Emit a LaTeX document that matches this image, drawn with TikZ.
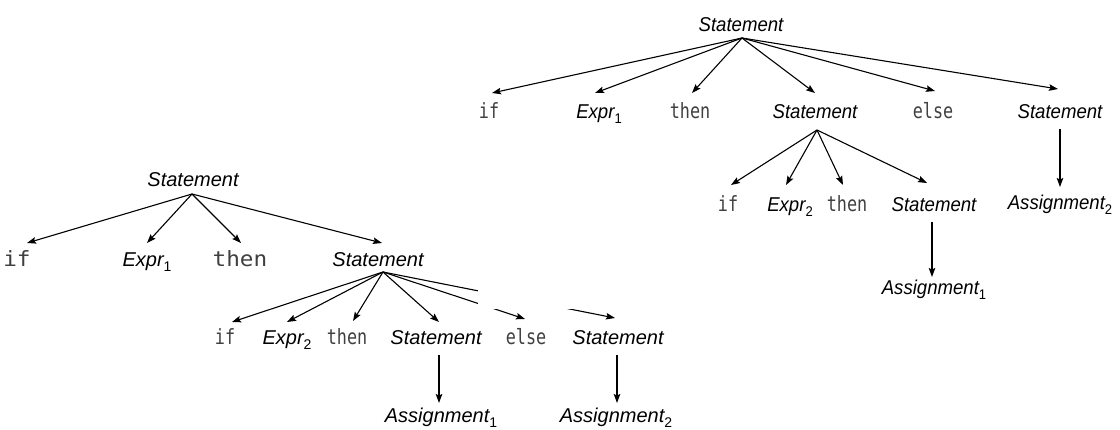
\documentclass[tikz,border=0pt]{standalone}
\usepackage{fontspec}
\usetikzlibrary{arrows.meta,calc}
\newfontfamily\labsans{Liberation Sans}
\newfontfamily\labnarrow[FakeStretch=0.93]{Liberation Sans}
\newfontfamily\kwmono[FakeStretch=0.8]{DejaVu Sans Mono}
\newfontfamily\kwwide[FakeStretch=1.08]{DejaVu Sans Mono}
\newcommand{\sub}[1]{\raisebox{-4.5pt}{\fontsize{14}{14}\selectfont\upshape #1}}
\tikzset{
  lbl/.style={anchor=base,inner sep=0pt,font=\labsans\itshape\fontsize{20}{24}\selectfont},
  lbln/.style={anchor=base,inner sep=0pt,font=\labnarrow\itshape\fontsize{20}{24}\selectfont},
  kw/.style={anchor=base,inner sep=0pt,text=black!75,font=\kwmono\fontsize{21}{24}\selectfont},
  kwbig/.style={anchor=base,inner sep=0pt,text=black!75,font=\kwwide\fontsize{21}{24}\selectfont},
  arr/.style={line width=1.1pt,-{Stealth[length=9pt,width=6.5pt,inset=1.5pt]}}
}
\begin{document}
\begin{tikzpicture}[x=1pt,y=-1pt]
\useasboundingbox (0,0) rectangle (1120,430);
% ---------- left tree ----------
\node[lbl]   (LS0) at (193,187) {Statement};
\node[kwbig] (Lif1) at (17,267) {if};
\node[lbl]   (LE1) at (147,267) {Expr\sub{1}};
\node[kwbig] (Lthen1) at (240,267) {then};
\node[lbl]   (LS1) at (378,267) {Statement};
\node[kw]    (Lif2) at (225,345) {if};
\node[lbl]   (LE2) at (287,345) {Expr\sub{2}};
\node[kw]    (Lthen2) at (347,345) {then};
\node[lbl]   (LS2) at (436,345) {Statement};
\node[kw]    (Lelse) at (526,345) {else};
\node[lbl]   (LS3) at (618,345) {Statement};
\node[lbl]   (LA1) at (441,423) {Assignment\sub{1}};
\node[lbl]   (LA2) at (616,423) {Assignment\sub{2}};

\draw[arr] ($(LS0.base)+(-1,7)$) -- ($(Lif1.base)+(10,-24)$);
\draw[arr] ($(LS0.base)+(-1,7)$) -- ($(LE1.base)+(0,-24)$);
\draw[arr] ($(LS0.base)+(-1,7)$) -- ($(Lthen1.base)+(1,-24)$);
\draw[arr] ($(LS0.base)+(-1,7)$) -- ($(LS1.base)+(4,-24)$);

\draw[arr] ($(LS1.base)+(5,5)$) -- ($(Lif2.base)+(7,-23)$);
\draw[arr] ($(LS1.base)+(5,5)$) -- ($(LE2.base)+(0,-23)$);
\draw[arr] ($(LS1.base)+(5,5)$) -- ($(Lthen2.base)+(6,-24)$);
\draw[arr] ($(LS1.base)+(5,5)$) -- ($(LS2.base)+(3,-23)$);
\draw[arr] ($(LS1.base)+(5,5)$) -- ($(Lelse.base)+(-1,-26)$);
\draw[arr] ($(LS1.base)+(5,5)$) -- ($(LS3.base)+(-3,-27)$);

\draw[arr] ($(LS2.base)+(3,10)$) -- ($(LA1.base)+(-2,-20)$);
\draw[arr] ($(LS3.base)+(-1,10)$) -- ($(LA2.base)+(1,-20)$);

% occluding patch present in the reference
\fill[white] (478,135) rectangle (700,309);

% ---------- right tree ----------
\node[lbln] (RS0) at (741,32) {Statement};
\node[kw]   (Rif1) at (489,119) {if};
\node[lbln] (RE1) at (599,119) {Expr\sub{1}};
\node[kw]   (Rthen1) at (690,119) {then};
\node[lbln] (RS1) at (815,119) {Statement};
\node[kw]   (Relse) at (933,119) {else};
\node[lbln] (RS2) at (1060,119) {Statement};
\node[kw]   (Rif2) at (728,212) {if};
\node[lbln] (RE2) at (790,212) {Expr\sub{2}};
\node[kw]   (Rthen2) at (847,212) {then};
\node[lbln] (RS3) at (934,212) {Statement};
\node[lbln] (RA1) at (934,295) {Assignment\sub{1}};
\node[lbln] (RA2) at (1060,210) {Assignment\sub{2}};

\draw[arr] ($(RS0.base)+(1,6)$) -- ($(Rif1.base)+(3,-26)$);
\draw[arr] ($(RS0.base)+(1,6)$) -- ($(RE1.base)+(-4,-26)$);
\draw[arr] ($(RS0.base)+(1,6)$) -- ($(Rthen1.base)+(2,-26)$);
\draw[arr] ($(RS0.base)+(1,6)$) -- ($(RS1.base)+(0,-26)$);
\draw[arr] ($(RS0.base)+(1,6)$) -- ($(Relse.base)+(2,-28)$);
\draw[arr] ($(RS0.base)+(1,6)$) -- ($(RS2.base)+(-2,-30)$);

\draw[arr] ($(RS1.base)+(2,11)$) -- ($(Rif2.base)+(3,-27)$);
\draw[arr] ($(RS1.base)+(2,11)$) -- ($(RE2.base)+(-4,-27)$);
\draw[arr] ($(RS1.base)+(2,11)$) -- ($(Rthen2.base)+(-4,-27)$);
\draw[arr] ($(RS1.base)+(2,11)$) -- ($(RS3.base)+(-7,-29)$);

\draw[arr] ($(RS3.base)+(-2,10)$) -- ($(RA1.base)+(-2,-18)$);
\draw[arr] ($(RS2.base)+(0,10)$) -- ($(RA2.base)+(0,-23)$);
\end{tikzpicture}
\end{document}
